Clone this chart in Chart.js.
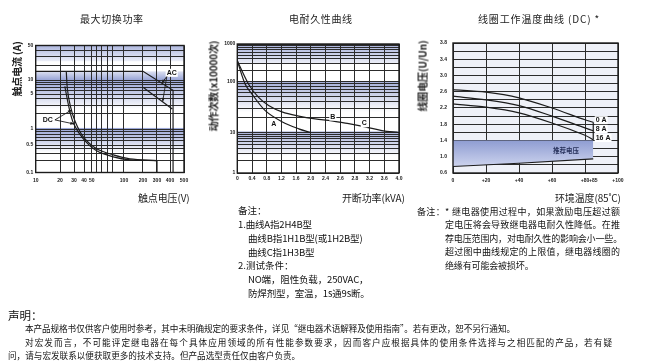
<!DOCTYPE html>
<html lang="zh-CN">
<head>
<meta charset="utf-8">
<title>继电器特性曲线</title>
<script src="https://cdn.jsdelivr.net/npm/chart.js@4.4.1/dist/chart.umd.min.js"></script>
<style>
html,body{margin:0;padding:0;background:#fff;}
#wrap{position:relative;width:648px;height:363px;overflow:hidden;font-family:"Noto Sans CJK SC","Noto Sans",sans-serif;color:#111;}
#wrap canvas{position:absolute;left:0;top:0;}
.t{position:absolute;white-space:nowrap;line-height:1;}
</style>
</head>
<body>
<div id="wrap">
<canvas id="c1" width="648" height="363"></canvas>
<canvas id="c2" width="648" height="363"></canvas>
<canvas id="c3" width="648" height="363"></canvas>
</div>
<script>
// ===== 最大切换功率 : x = 触点电压 (V), y = 触点电流 (A) =====
const sw_xGrid   = [10,20,30,40,50,60,70,80,90,100,200,300,400,500];
const sw_xLabels = [10,20,30,40,50,100,200,300,400,500];
const sw_yGrid   = [0.1,0.2,0.3,0.4,0.5,0.6,0.7,0.8,0.9,1,2,3,4,5,6,7,8,9,10,20,30,40,50];
const sw_yLabels = [0.1,0.5,1,5,10,50];
const dcOuterV = [24, 24.8, 27, 31, 39, 60, 91, 124, 300];
const dcOuterA = [14.5, 6.25, 2.85, 1.41, 0.72, 0.40, 0.28, 0.223, 0.2];
const dcInnerV = [23, 26, 29.5, 39, 60, 91, 124, 300];
const dcInnerA = [7.3, 2.65, 1.31, 0.66, 0.355, 0.25, 0.21, 0.2];
const dcCutV   = [300, 300];
const dcCutA   = [0.2, 0.1];
const acUpperV = [10, 200, 420, 420];
const acUpperA = [15, 15, 6, 0.1];
const acLowerV = [200, 415];
const acLowerA = [7, 2.5];

// ===== 电耐久性曲线 : x = 开断功率 (kVA, position along the printed axis), y = 动作次数 (x10000次) =====
const dur_xLabels = ['0','0.4','0.8','1.2','1.6','2.0','2.4','2.6','2.8','3.2','3.6','4.0'];
const dur_yGrid   = [1,2,3,4,5,6,7,8,9,10,20,30,40,50,60,70,80,90,100,200,300,400,500,600,700,800,900,1000];
const dur_yLabels = [1,10,100,1000];
const curveA_pos  = [0, 0.54, 1.0, 1.9, 3.04, 4.18, 5.0];
const curveA_ops  = [360, 89, 57, 27, 16.3, 11.8, 10];
const curveBC_pos = [0, 0.77, 1.45, 2.13, 3.04, 4.18, 5.3, 6.44, 7.58, 8.7, 9.84, 11];
const curveBC_ops = [360, 89, 49, 34, 25.4, 21, 18.5, 17, 14.9, 12.9, 10.9, 10];

// ===== 线圈工作温度曲线 (DC) : x = 环境温度 (°C), y = 线圈电压 (U/Un) =====
const coil_xTicks  = [0,20,40,60,80,85,100];
const coil_xLabels = ['0','+20','+40','+60','+80','+85','+100'];
const coil_yGrid   = [0.6,0.8,1.0,1.2,1.4,1.6,1.8,2.0,2.2,2.4,2.6,2.8,3.0,3.2,3.4,3.6,3.8];
const coil_yLabels = ['0.6','1.0','1.4','1.8','2.2','2.6','3.0','3.4','3.8'];
const temps   = [0, 20, 40, 60, 80, 85];
const coil0A  = [2.65, 2.59, 2.45, 2.20, 1.91, 1.85];
const coil8A  = [2.49, 2.40, 2.26, 2.00, 1.71, 1.64];
const coil16A = [2.30, 2.22, 2.08, 1.83, 1.53, 1.42];
const limitT  = [85, 85];
const limitU  = [1.85, 1.42];
const minT    = [0, 40, 85];
const minU    = [0.76, 0.84, 0.95];
const recU    = [1.4, 1.4, 1.4];

// ---------------------------------------------------------------
// The printed log axes are not evenly spaced; this scale follows the printed
// decade/grid spacing (fraction of the axis length at each printed grid value).
const AXIS_SPACING = {
  sw_x:  {v:[10,20,30,40,50,60,70,80,90,100,200,300,400,500],
          f:[0,0.1639,0.2583,0.3257,0.3776,0.4113,0.4451,0.4808,0.5145,0.5954,0.7235,0.8179,0.9056,1]},
  sw_y:  {v:[0.1,0.5,1,5,10,50], f:[0,0.2165,0.3425,0.618,0.728,1]},
  dur_y: {v:[1,10,100,1000], f:[0,0.314,0.708,1]}
};
class PrintedLogScale extends Chart.LogarithmicScale {
  _k(){ return AXIS_SPACING[this.options.spacingKey]; }
  _frac(v){
    const k = this._k(), n = k.v.length;
    let i = 0;
    while (i < n - 2 && v > k.v[i + 1]) i++;
    const a = Math.log10(k.v[i]), b = Math.log10(k.v[i + 1]);
    return k.f[i] + (Math.log10(v) - a) / (b - a) * (k.f[i + 1] - k.f[i]);
  }
  getPixelForValue(value){
    if (value === undefined || value === 0) value = this.min;
    if (value === null || isNaN(value) || value <= 0) return NaN;
    const f = this._frac(value);
    return this.isHorizontal() ? this.left + f * this.width : this.bottom - f * this.height;
  }
  getValueForPixel(pixel){
    const k = this._k(), n = k.v.length;
    const f = this.isHorizontal() ? (pixel - this.left) / this.width : (this.bottom - pixel) / this.height;
    let i = 0;
    while (i < n - 2 && f > k.f[i + 1]) i++;
    const a = Math.log10(k.v[i]), b = Math.log10(k.v[i + 1]);
    return Math.pow(10, a + (f - k.f[i]) / (k.f[i + 1] - k.f[i]) * (b - a));
  }
}
PrintedLogScale.id = 'printedLog';
PrintedLogScale.defaults = Chart.LogarithmicScale.defaults;
Chart.register(PrintedLogScale);

const W = 648, H = 363;
const TICK_FONT = {family:'"Liberation Sans", Arial, sans-serif', size:5, weight:'bold'};
const GRID = '#2c2c2c';
const pts = (xs, ys) => xs.map((x, i) => ({x, y: ys[i]}));
const line = (data, tension, extra) => Object.assign({data, borderColor:'#1c1c1c', borderWidth:1.2, pointRadius:0, tension, fill:false}, extra || {});

const bandsPlugin = {
  id:'bands',
  beforeDraw(chart, args, o){
    const {ctx, chartArea:a} = chart, y = chart.scales.y;
    ctx.save();
    if (o.bg){ ctx.fillStyle = o.bg; ctx.fillRect(a.left, a.top, a.width, a.height); }
    (o.bands || []).forEach(b => {
      const y0 = y.getPixelForValue(b.from), y1 = y.getPixelForValue(b.to);
      const g = ctx.createLinearGradient(0, y0, 0, y1);
      g.addColorStop(0, b.c0); g.addColorStop(1, b.c1);
      ctx.fillStyle = g; ctx.fillRect(a.left, y0, a.width, y1 - y0);
    });
    ctx.restore();
  }
};
const framePlugin = {
  id:'frame',
  afterDraw(chart){
    const {ctx, chartArea:a} = chart;
    ctx.save(); ctx.strokeStyle = '#1c1c1c'; ctx.lineWidth = 1.4;
    ctx.strokeRect(a.left, a.top, a.width, a.height); ctx.restore();
  }
};
const annotPlugin = {
  id:'annot',
  afterDatasetsDraw(chart, args, o){
    const {ctx} = chart, sx = chart.scales.x, sy = chart.scales.y;
    ctx.save();
    (o.labels || []).forEach(t => {
      const x = sx.getPixelForValue(t.x), y = sy.getPixelForValue(t.y);
      ctx.font = t.font; ctx.textBaseline = 'middle'; ctx.textAlign = t.align || 'center';
      const w = ctx.measureText(t.text).width;
      if (t.bg){
        const lx = t.align === 'left' ? x - 1 : x - w / 2 - 1;
        ctx.fillStyle = t.bg; ctx.fillRect(lx, y - 4, w + 2, 8);
      }
      ctx.fillStyle = t.color || '#111'; ctx.fillText(t.text, x, y);
    });
    (o.leaders || []).forEach(l => {
      const x0 = sx.getPixelForValue(l.from[0]), y0 = sy.getPixelForValue(l.from[1]);
      const x1 = sx.getPixelForValue(l.to[0]),   y1 = sy.getPixelForValue(l.to[1]);
      ctx.strokeStyle = '#1c1c1c'; ctx.lineWidth = 0.9;
      ctx.beginPath(); ctx.moveTo(x0, y0); ctx.lineTo(x1, y1); ctx.stroke();
      const ang = Math.atan2(y1 - y0, x1 - x0), L = 4, s = 0.38;
      ctx.fillStyle = '#1c1c1c'; ctx.beginPath(); ctx.moveTo(x1, y1);
      ctx.lineTo(x1 - L * Math.cos(ang - s), y1 - L * Math.sin(ang - s));
      ctx.lineTo(x1 - L * Math.cos(ang + s), y1 - L * Math.sin(ang + s));
      ctx.closePath(); ctx.fill();
    });
    ctx.restore();
  }
};

function opts(area, xs, ys, pluginOpts){
  const yw = 30, xh = 20;
  const common = (s) => Object.assign({
    afterFit: sc => { if (sc.isHorizontal()) sc.height = xh; else sc.width = yw; },
    grid:{color:GRID, lineWidth:1, drawTicks:false},
    border:{display:false}
  }, s);
  xs.ticks = Object.assign({autoSkip:false, maxRotation:0, minRotation:0, font:TICK_FONT, color:'#1a1a1a'}, xs.ticks);
  ys.ticks = Object.assign({autoSkip:false, font:TICK_FONT, color:'#1a1a1a'}, ys.ticks);
  return {
    responsive:false, animation:false, devicePixelRatio:1,
    layout:{padding:{left:area.L - yw, top:area.T, right:W - area.R, bottom:H - area.B - xh}},
    plugins:Object.assign({legend:{display:false}, tooltip:{enabled:false}, title:{display:false}}, pluginOpts),
    scales:{x:common(xs), y:common(ys)}
  };
}
const LBL = 'bold 7px "Liberation Sans", Arial';

// ---- chart 1: 最大切换功率 ----
new Chart(document.getElementById('c1'), {
  type:'line',
  data:{datasets:[
    line(pts(dcOuterV, dcOuterA), 0.3),
    line(pts(dcInnerV, dcInnerA), 0.3),
    line(pts(dcCutV, dcCutA), 0),
    line(pts(acUpperV, acUpperA), 0),
    line(pts(acLowerV, acLowerA), 0)
  ]},
  options:opts({L:35.7, T:45.5, R:184, B:172.5},
    {type:'printedLog', spacingKey:'sw_x', min:10, max:500,
     afterBuildTicks:s => { s.ticks = sw_xGrid.map(v => ({value:v})); },
     ticks:{padding:5.5, callback:v => sw_xLabels.includes(v) ? String(v) : ''}},
    {type:'printedLog', spacingKey:'sw_y', min:0.1, max:50,
     afterBuildTicks:s => { s.ticks = sw_yGrid.map(v => ({value:v})); },
     ticks:{padding:2.5, callback:v => sw_yLabels.includes(v) ? String(v) : ''}},
    {
      bands:{bands:[
        {from:50, to:24, c0:'#aeb7de', c1:'#eceef8'},
        {from:15, to:10, c0:'#dde1f1', c1:'#98a4d6'},
        {from:10, to:2.5, c0:'#98a4d6', c1:'#ffffff'},
        {from:1.05, to:0.32, c0:'#98a4d6', c1:'#ffffff'}
      ]},
      annot:{
        labels:[
          {text:'AC', x:411, y:14, font:LBL, bg:'#ffffff'},
          {text:'DC', x:14.1, y:1.48, font:LBL, bg:'#ffffff'}
        ],
        leaders:[
          {from:[372, 11.7], to:[333, 8.6]},
          {from:[372, 11.7], to:[340, 3.5]},
          {from:[17.3, 1.52], to:[28, 2.4]},
          {from:[17.3, 1.52], to:[30, 1.26]}
        ]
      }
    }),
  plugins:[bandsPlugin, framePlugin, annotPlugin]
});

// ---- chart 2: 电耐久性曲线 ----
new Chart(document.getElementById('c2'), {
  type:'line',
  data:{datasets:[
    line(pts(curveA_pos, curveA_ops), 0.35),
    line(pts(curveBC_pos, curveBC_ops), 0.35)
  ]},
  options:opts({L:237.3, T:44, R:399, B:173},
    {type:'linear', min:0, max:dur_xLabels.length - 1,
     afterBuildTicks:s => { s.ticks = dur_xLabels.map((l, i) => ({value:i})); },
     ticks:{padding:3, callback:(v, i) => dur_xLabels[i]}},
    {type:'printedLog', spacingKey:'dur_y', min:1, max:1000,
     afterBuildTicks:s => { s.ticks = dur_yGrid.map(v => ({value:v})); },
     ticks:{padding:2, callback:v => dur_yLabels.includes(v) ? String(v) : ''}},
    {
      bands:{bands:[
        {from:1000, to:300, c0:'#a6b0da', c1:'#eef0f8'},
        {from:100, to:25, c0:'#a6b0da', c1:'#ffffff'},
        {from:10.5, to:2.6, c0:'#a6b0da', c1:'#ffffff'}
      ]},
      annot:{labels:[
        {text:'A', x:2.48, y:14.4, font:LBL, bg:'#ffffff'},
        {text:'B', x:6.5, y:20.5, font:LBL, bg:'#ffffff'},
        {text:'C', x:8.64, y:15.2, font:LBL, bg:'#ffffff'}
      ]}
    }),
  plugins:[bandsPlugin, framePlugin, annotPlugin]
});

// ---- chart 3: 线圈工作温度曲线 ----
new Chart(document.getElementById('c3'), {
  type:'line',
  data:{datasets:[
    line(pts(temps, coil0A), 0.3),
    line(pts(temps, coil8A), 0.3),
    line(pts(temps, coil16A), 0.3),
    line(pts(limitT, limitU), 0),
    line(pts(minT, minU), 0),
    line(pts(minT, recU), 0, {borderWidth:0, fill:4, backgroundColor:(c) => {
      const ch = c.chart, a = ch.chartArea;
      if (!a) return 'rgba(140,155,210,0.8)';
      const y = ch.scales.y;
      const g = ch.ctx.createLinearGradient(0, y.getPixelForValue(1.4), 0, y.getPixelForValue(0.8));
      g.addColorStop(0, '#8f9dd2'); g.addColorStop(1, '#c9d0ec');
      return g;
    }})
  ]},
  options:opts({L:453, T:43, R:618, B:173},
    {type:'linear', min:0, max:100,
     afterBuildTicks:s => { s.ticks = coil_xTicks.map(v => ({value:v})); },
     grid:{color:c => (c.tick && c.tick.value === 85) ? 'rgba(0,0,0,0)' : GRID, lineWidth:1, drawTicks:false},
     ticks:{padding:5, callback:(v, i) => coil_xLabels[i]}},
    {type:'linear', min:0.6, max:3.8,
     afterBuildTicks:s => { s.ticks = coil_yGrid.map(v => ({value:v})); },
     ticks:{padding:6, callback:(v, i) => i % 2 === 0 ? coil_yLabels[i / 2] : ''}},
    {
      bands:{bg:'#eff1f8'},
      annot:{labels:[
        {text:'0 A', x:86.5, y:1.90, font:LBL, align:'left', bg:'#ffffff'},
        {text:'8 A', x:86.5, y:1.68, font:LBL, align:'left', bg:'#ffffff'},
        {text:'16 A', x:86.5, y:1.46, font:LBL, align:'left', bg:'#ffffff'},
        {text:'推荐电压', x:68.5, y:1.15, font:'bold 6.5px "Noto Sans CJK SC"', color:'#26305a'}
      ]}
    }),
  plugins:[bandsPlugin, framePlugin, annotPlugin]
});

// ---------------- text ----------------
const wrap = document.getElementById('wrap');
function txt(s, x, cy, size, o){
  o = o || {};
  const d = document.createElement('div');
  d.className = 't'; d.textContent = s; d.style.fontSize = size + 'px';
  if (o.bold) d.style.fontWeight = 'bold';
  if (o.color) d.style.color = o.color;
  wrap.appendChild(d);
  const n = [...s].length;
  if (o.w && n > 1){
    const nat = d.getBoundingClientRect().width;
    d.style.letterSpacing = Math.max(-0.15, (o.w - nat) / (n - 1)) + 'px';
  }
  const w = d.getBoundingClientRect().width;
  if (o.rot){
    d.style.left = (x - w / 2) + 'px';
    d.style.top = (cy - size / 2) + 'px';
    d.style.transform = 'rotate(-90deg)';
  } else {
    d.style.left = x + 'px';
    d.style.top = (cy - size / 2) + 'px';
  }
}
// titles
txt('最大切换功率', 80, 19, 10, {w:63, color:'#222'});
txt('电耐久性曲线', 289, 19, 10, {w:63, color:'#222'});
txt('线圈工作温度曲线  (DC) *', 478, 19, 10, {w:122, color:'#222'});
// axis titles
txt('触点电流 (A)', 17, 69, 10, {w:52, rot:true, bold:true, color:'#222'});
txt('动作次数(x10000次)', 213, 85.5, 10, {w:85, rot:true, bold:true, color:'#222'});
txt('线圈电压(U/Un)', 423, 76, 10, {w:65, rot:true, bold:true, color:'#222'});
txt('触点电压(V)', 138, 198, 10, {w:50, color:'#222'});
txt('开断功率(kVA)', 342, 198, 10, {w:58, color:'#222'});
txt('环境温度(85˚C)', 555, 198, 10, {w:62, color:'#222'});
// notes, durability
txt('备注：', 238, 211, 9.5);
txt('1.曲线A指2H4B型', 238, 225, 9.5, {w:74});
txt('曲线B指1H1B型(或1H2B型)', 248, 238.5, 9.5, {w:114});
txt('曲线C指1H3B型', 248, 252.5, 9.5, {w:65});
txt('2.测试条件：', 238, 266, 9.5);
txt('NO端，阻性负载，250VAC，', 248, 280, 9.5, {w:114});
txt('防焊剂型，室温，1s通9s断。', 248, 293.5, 9.5, {w:113});
// notes, coil
txt('备注：* 继电器使用过程中，如果激励电压超过额', 417, 211, 9, {w:203});
txt('定电压将会导致继电器电耐久性降低。在推', 445, 224.5, 9, {w:175});
txt('荐电压范围内，对电耐久性的影响会小一些。', 445, 238, 9, {w:177});
txt('超过图中曲线规定的上限值，继电器线圈的', 445, 251.5, 9, {w:175});
txt('绝缘有可能会被损坏。', 445, 265, 9, {w:87});
// declaration
txt('声明：', 8, 316, 11.5);
txt('本产品规格书仅供客户使用时参考，其中未明确规定的要求条件，详见“继电器术语解释及使用指南”。若有更改，恕不另行通知。', 25, 328, 8.6, {w:490});
txt('对宏发而言，不可能评定继电器在每个具体应用领域的所有性能参数要求，因而客户应根据具体的使用条件选择与之相匹配的产品，若有疑', 25, 342, 8.6, {w:587});
txt('问，请与宏发联系以便获取更多的技术支持。但产品选型责任仅由客户负责。', 8, 355, 8.6);
</script>
</body>
</html>
